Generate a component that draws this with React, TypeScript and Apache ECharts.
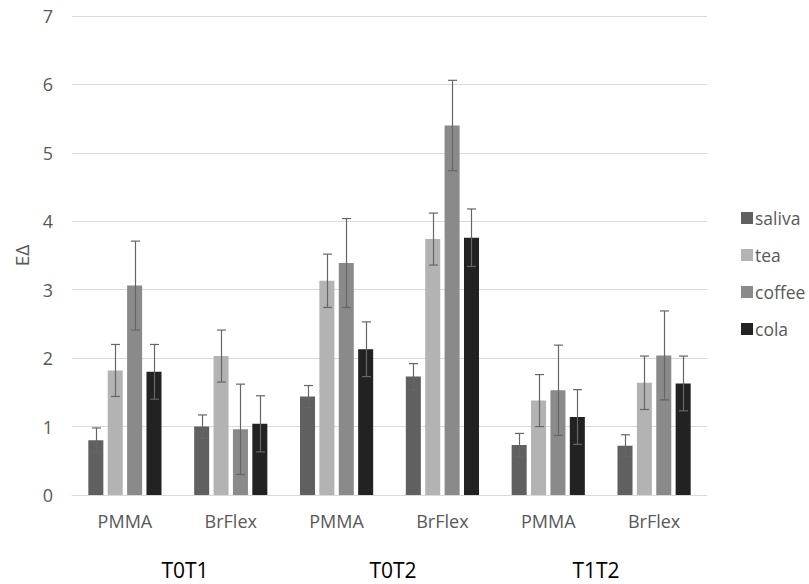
import React, { useEffect, useRef } from "react";
import * as echarts from "echarts";

const categories = ["PMMA", "BrFlex", "PMMA", "BrFlex", "PMMA", "BrFlex"];
const groupLabels = ["T0T1", "T0T2", "T1T2"];
const seriesNames = ["saliva", "tea", "coffee", "cola"];
const saliva = [0.8, 1.0, 1.44, 1.73, 0.73, 0.72];
const tea = [1.82, 2.03, 3.13, 3.74, 1.38, 1.64];
const coffee = [3.06, 0.96, 3.39, 5.4, 1.53, 2.04];
const cola = [1.8, 1.04, 2.13, 3.76, 1.14, 1.63];
const salivaErr = [0.18, 0.17, 0.16, 0.19, 0.17, 0.16];
const teaErr = [0.38, 0.38, 0.39, 0.38, 0.38, 0.39];
const coffeeErr = [0.65, 0.66, 0.65, 0.66, 0.66, 0.65];
const colaErr = [0.4, 0.41, 0.4, 0.42, 0.4, 0.4];
const yTicks = [0, 1, 2, 3, 4, 5, 6, 7];

const colors = ["#606060", "#b3b3b3", "#8a8a8a", "#222222"];
const FONT = "'Open Sans', 'Noto Sans', sans-serif";
const BAR_W = 0.142; // fraction of band
const BAR_GAP = 0.29; // fraction of bar width

export default function App() {
  const ref = useRef<HTMLDivElement>(null);
  useEffect(() => {
    if (!ref.current) return;
    const chart = echarts.init(ref.current, null, { renderer: "svg" });
    const values = [saliva, tea, coffee, cola];
    const errs = [salivaErr, teaErr, coffeeErr, colaErr];

    const barSeries = seriesNames.map((name, i) => ({
      name,
      type: "bar",
      data: values[i],
      barWidth: BAR_W * 100 + "%",
      barGap: BAR_GAP * 100 + "%",
      itemStyle: { color: colors[i] },
      z: 2,
    }));

    const errSeries = seriesNames.map((name, i) => ({
      name: name + "_err",
      type: "custom",
      z: 3,
      data: values[i].map((v, k) => [k, v, errs[i][k]]),
      renderItem: (params: any, api: any) => {
        const k = api.value(0);
        const v = api.value(1);
        const e = api.value(2);
        const band = api.size([1, 0])[0];
        const bw = band * BAR_W;
        const pitch = bw * (1 + BAR_GAP);
        const off = (i - 1.5) * pitch;
        const top = api.coord([k, v + e]);
        const bot = api.coord([k, v - e]);
        const x = Math.round(top[0] + off) + 0.5;
        const cap = 4.5;
        const style = { stroke: "#666666", lineWidth: 1.2 };
        return {
          type: "group",
          children: [
            { type: "line", shape: { x1: x, y1: top[1], x2: x, y2: bot[1] }, style },
            { type: "line", shape: { x1: x - cap, y1: top[1], x2: x + cap, y2: top[1] }, style },
            { type: "line", shape: { x1: x - cap, y1: bot[1], x2: x + cap, y2: bot[1] }, style },
          ],
        };
      },
    }));

    const groupX = [185, 393, 596];

    chart.setOption({
      animation: false,
      backgroundColor: "#ffffff",
      grid: { left: 72, right: 102, top: 16, bottom: 89 },
      legend: {
        orient: "vertical",
        left: 736,
        top: 204,
        itemWidth: 12,
        itemHeight: 12,
        itemGap: 19,
        icon: "rect",
        data: seriesNames,
        textStyle: { fontFamily: FONT, fontSize: 17.5, color: "#595959", padding: [0, 0, 0, -3] },
      },
      xAxis: {
        type: "category",
        data: categories,
        axisLine: { show: true, lineStyle: { color: "#d9d9d9", width: 1 } },
        axisTick: { show: false },
        axisLabel: { fontFamily: FONT, fontSize: 18, color: "#595959", margin: 17 },
      },
      yAxis: {
        type: "value",
        min: yTicks[0],
        max: yTicks[yTicks.length - 1],
        interval: 1,
        name: "EΔ",
        nameLocation: "middle",
        nameGap: 40,
        nameRotate: 90,
        nameTextStyle: { fontFamily: FONT, fontSize: 19, color: "#595959" },
        axisLine: { show: false },
        axisTick: { show: false },
        axisLabel: { fontFamily: FONT, fontSize: 18, color: "#595959", margin: 19 },
        splitLine: { lineStyle: { color: "#d9d9d9", width: 1 } },
      },
      graphic: groupLabels.map((t, i) => ({
        type: "text",
        x: groupX[i],
        y: 570,
        style: {
          text: t,
          fontFamily: FONT,
          fontSize: 21,
          fill: "#000000",
          align: "center",
          verticalAlign: "middle",
        },
      })),
      series: [...barSeries, ...errSeries],
    });
    return () => chart.dispose();
  }, []);
  return (
    <div
      ref={ref}
      style={{ position: "absolute", left: 0, top: 0, width: 809, height: 584 }}
    />
  );
}
